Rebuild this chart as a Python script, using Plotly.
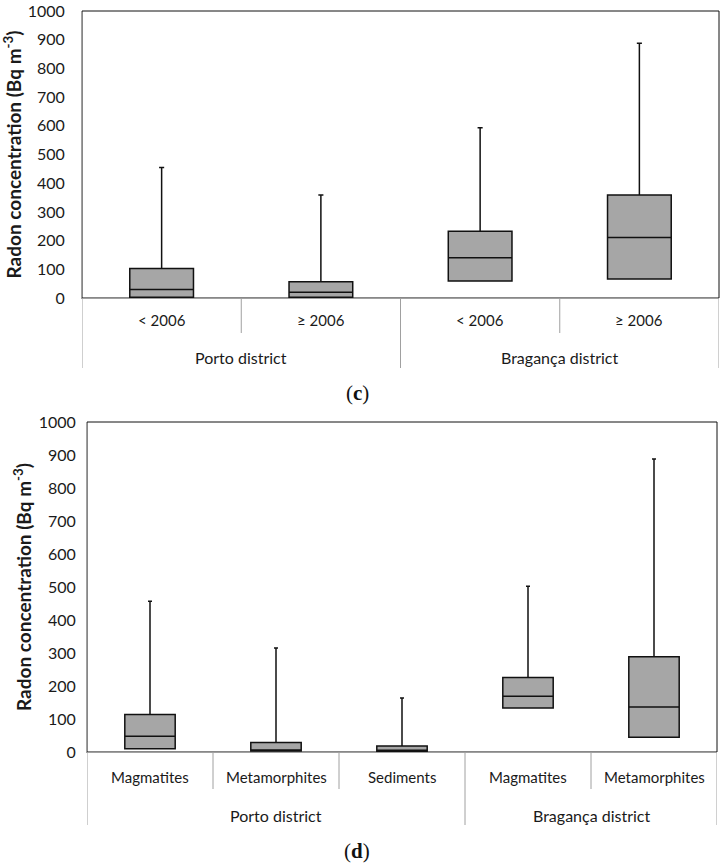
import plotly.graph_objects as go

# Panel (c): construction period
c_groups = ["Porto district", "Porto district", "Bragança district", "Bragança district"]
c_periods = ["< 2006", "≥ 2006", "< 2006", "≥ 2006"]
c_q1 = [3, 3, 59, 66]
c_median = [30, 20, 140, 211]
c_q3 = [103, 57, 233, 359]
c_max = [455, 359, 593, 888]

# Panel (d): geology
d_groups = ["Porto district", "Porto district", "Porto district", "Bragança district", "Bragança district"]
d_geology = ["Magmatites", "Metamorphites", "Sediments", "Magmatites", "Metamorphites"]
d_q1 = [10, 3, 2, 133, 45]
d_median = [48, 5, 3, 169, 136]
d_q3 = [114, 29, 18, 226, 289]
d_max = [457, 315, 164, 502, 888]

W, H = 724, 864
FONT = "Lato"
BOX_FILL = "#a6a6a6"
AXIS_GRAY = "#a0a0a0"
TEXT = "#1a1a1a"


def px_x(p):
    return p / W


def px_y(p):
    return 1 - p / H


fig = go.Figure()

fig.add_trace(go.Box(
    x=list(range(len(c_q1))), q1=c_q1, median=c_median, q3=c_q3,
    lowerfence=c_q1, upperfence=c_max, boxpoints=False,
    fillcolor=BOX_FILL, line=dict(color="#111111", width=1.5),
    width=0.4, whiskerwidth=0.08, xaxis="x", yaxis="y", showlegend=False,
))
fig.add_trace(go.Box(
    x=list(range(len(d_q1))), q1=d_q1, median=d_median, q3=d_q3,
    lowerfence=d_q1, upperfence=d_max, boxpoints=False,
    fillcolor=BOX_FILL, line=dict(color="#111111", width=1.5),
    width=0.4, whiskerwidth=0.08, xaxis="x2", yaxis="y2", showlegend=False,
))

# panel pixel boxes: left, right, top, bottom; plus label rows
panels = [
    dict(xa="x", ya="y", box=(82, 719, 11, 298), groups=c_groups, labels=c_periods,
         inner_y=320, inner_tick=333, group_y=357, group_tick=368, standoff=13,
         cap="(<b>c</b>)", cap_y=393),
    dict(xa="x2", ya="y2", box=(87, 717, 422, 752), groups=d_groups, labels=d_geology,
         inner_y=777, inner_tick=789, group_y=815, group_tick=825, standoff=7,
         cap="(<b>d</b>)", cap_y=851),
]

shapes, annotations = [], []
layout_axes = {}
for i, p in enumerate(panels):
    l, r, t, b = p["box"]
    n = len(p["labels"])
    xname = "xaxis" if i == 0 else "xaxis2"
    yname = "yaxis" if i == 0 else "yaxis2"
    layout_axes[xname] = dict(
        domain=[px_x(l), px_x(r)], anchor=p["ya"], range=[-0.5, n - 0.5],
        showticklabels=False, ticks="", showgrid=False, zeroline=False,
        showline=True, linecolor=AXIS_GRAY, linewidth=1, automargin=False,
    )
    layout_axes[yname] = dict(
        domain=[px_y(b), px_y(t)], anchor=p["xa"], range=[0, 1000], dtick=100,
        showgrid=False, zeroline=False, showline=True, linecolor=AXIS_GRAY, linewidth=1,
        ticks="", ticklabelstandoff=p["standoff"], automargin=False,
        tickfont=dict(family=FONT, size=16, color=TEXT),
        title=dict(text="<b>Radon concentration (Bq m<sup>-3</sup>)</b>",
                   font=dict(family=FONT, size=19, color=TEXT), standoff=2),
    )
    # plot-area frame (black top/right)
    shapes.append(dict(type="rect", xref="paper", yref="paper",
                       x0=px_x(l), x1=px_x(r), y0=px_y(b), y1=px_y(t),
                       line=dict(color="#111111", width=1), layer="below"))
    # inner category labels and boundaries
    for k, lab in enumerate(p["labels"]):
        annotations.append(dict(text=lab, xref=p["xa"], yref="paper", x=k, y=px_y(p["inner_y"]),
                                showarrow=False, yanchor="middle",
                                font=dict(family=FONT, size=15, color=TEXT)))
    for k in range(n + 1):
        edge = k == 0 or k == n or p["groups"][k] != p["groups"][k - 1]
        y_end = p["group_tick"] if edge else p["inner_tick"]
        shapes.append(dict(type="line", xref=p["xa"], yref="paper",
                           x0=k - 0.5, x1=k - 0.5, y0=px_y(b), y1=px_y(y_end),
                           line=dict(color=AXIS_GRAY, width=1)))
    # group labels
    seen = []
    for g in p["groups"]:
        if g not in seen:
            seen.append(g)
    for g in seen:
        idx = [k for k, gg in enumerate(p["groups"]) if gg == g]
        annotations.append(dict(text=g, xref=p["xa"], yref="paper",
                                x=sum(idx) / len(idx), y=px_y(p["group_y"]),
                                showarrow=False, yanchor="middle",
                                font=dict(family=FONT, size=16, color=TEXT)))
    annotations.append(dict(text=p["cap"], xref="paper", yref="paper", x=px_x(357),
                            y=px_y(p["cap_y"]), showarrow=False, yanchor="middle",
                            font=dict(family="Liberation Serif", size=21, color="#111111")))

fig.update_layout(
    width=W, height=H, margin=dict(l=0, r=0, t=0, b=0, pad=0),
    paper_bgcolor="white", plot_bgcolor="white",
    shapes=shapes, annotations=annotations, **layout_axes,
)

fig.write_html("out.html", config={"displayModeBar": False},
               post_script="document.body.style.margin='0';")
